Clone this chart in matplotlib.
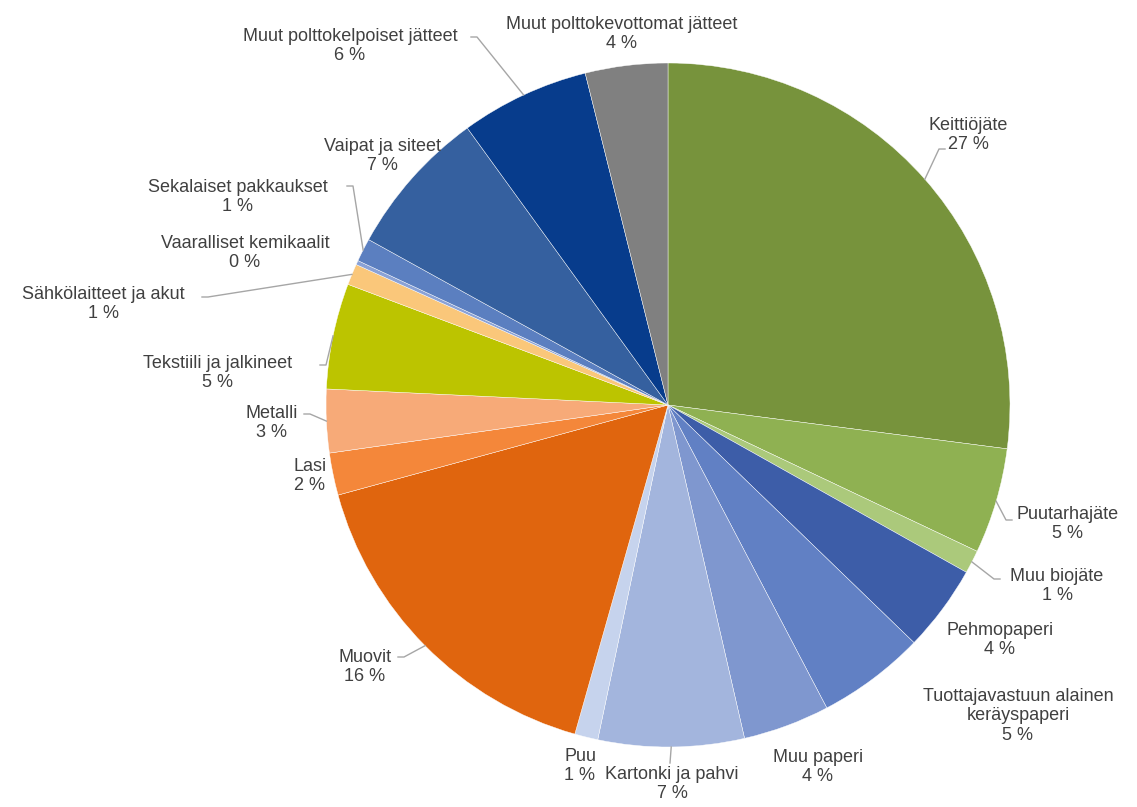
import matplotlib.pyplot as plt
import numpy as np

W, H = 1137, 807

categories = ["Keittiöjäte", "Puutarhajäte", "Muu biojäte", "Pehmopaperi",
              "Tuottajavastuun alainen\nkeräyspaperi", "Muu paperi", "Kartonki ja pahvi",
              "Puu", "Muovit", "Lasi", "Metalli", "Tekstiili ja jalkineet",
              "Sähkölaitteet ja akut", "Vaaralliset kemikaalit", "Sekalaiset pakkaukset",
              "Vaipat ja siteet", "Muut polttokelpoiset jätteet", "Muut polttokevottomat jätteet"]
shares = [27.1, 5.0, 1.1, 4.1, 5.1, 4.1, 6.9, 1.1, 16.4, 2.0, 3.0, 5.0,
          1.0, 0.2, 1.1, 7.0, 6.1, 3.9]
colors = ["#77933c", "#8fb152", "#abc97b", "#3d5da8", "#6180c4", "#7f97cf",
          "#a3b5dd", "#c6d3ed", "#e0650e", "#f4873a", "#f7aa78", "#bcc400",
          "#fac77a", "#8aa2d6", "#5b7fc0", "#35609f", "#073c8c", "#808080"]

# label block centres (pixels) and leader start points (None = no leader)
label_pos = [(968, 135), (1068, 524), (1057, 586), (1000, 640), (1018, 716),
             (818, 767), (672, 784), (580, 766), (365, 667), (310, 476),
             (272, 423), (218, 373), (103, 304), (245, 253), (238, 197),
             (382, 156), (350, 46), (622, 34)]
leader_start = [(945, 149), (1012, 520), (1000, 579), None, None,
                None, (670, 763), None, (398, 657), None,
                (304, 414), (320, 365), (202, 297), None, (347, 186),
                None, (471, 37), None]

cx, cy, r = 668, 405, 342

fig = plt.figure(figsize=(W / 100, H / 100), dpi=100)
ax = fig.add_axes([0, 0, 1, 1])

wedges, _ = ax.pie(shares, colors=colors, startangle=-90, counterclock=True,
                   radius=r, center=(cx, cy),
                   wedgeprops=dict(linewidth=0.3, edgecolor="white"))
ax.set_xlim(0, W)
ax.set_ylim(H, 0)
ax.set_aspect("equal")
ax.axis("off")

for i, w in enumerate(wedges):
    name = categories[i]
    pct = f"{round(shares[i])} %"
    x, y = label_pos[i]
    ax.text(x, y, f"{name}\n{pct}", ha="center", va="center", fontsize=13,
            color="#404040", family="Liberation Sans", linespacing=1.2)
    if leader_start[i] is not None:
        mid = np.deg2rad((w.theta1 + w.theta2) / 2)
        ex, ey = cx + r * np.cos(mid), cy + r * np.sin(mid)
        sx, sy = leader_start[i]
        step = 6 if ex > sx else -6
        if abs(ex - sx) < 8:
            ax.plot([sx, ex], [sy, ey], color="#a6a6a6", lw=1)
        else:
            ax.plot([sx, sx + step, ex], [sy, sy, ey], color="#a6a6a6", lw=1)

fig.savefig("out.png", dpi=100)
